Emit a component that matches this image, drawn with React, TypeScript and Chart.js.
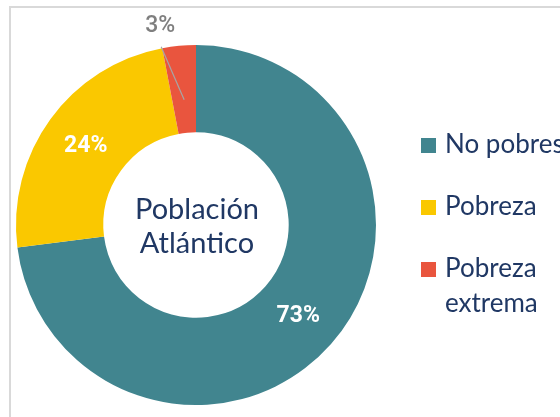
import React, { useEffect, useRef } from 'react';
import { Chart, registerables } from 'chart.js';

Chart.register(...registerables);

const categories = ['No pobres', 'Pobreza', 'Pobreza extrema'];
const legendLines = [['No pobres'], ['Pobreza'], ['Pobreza', 'extrema']];
const values = [73, 24, 3];
const colors = ['#41858F', '#FAC800', '#E9553E'];
const centerTitle = ['Población', 'Atlántico'];

const NAVY = '#203864';

const framePlugin = {
  id: 'frame',
  beforeDraw(chart: any) {
    const ctx = chart.ctx;
    ctx.save();
    ctx.strokeStyle = '#d9d9d9';
    ctx.lineWidth = 2;
    ctx.beginPath();
    ctx.moveTo(10, chart.height + 5);
    ctx.lineTo(10, 7);
    ctx.lineTo(chart.width + 5, 7);
    ctx.stroke();
    ctx.restore();
  },
};

const labelPlugin = {
  id: 'sliceLabels',
  afterDatasetsDraw(chart: any) {
    const ctx = chart.ctx;
    const meta = chart.getDatasetMeta(0);
    const data = chart.data.datasets[0].data as number[];
    ctx.save();
    meta.data.forEach((arc: any, i: number) => {
      const v = data[i];
      const pos = arc.tooltipPosition();
      const text = `${v}%`;
      if (v >= 10) {
        ctx.fillStyle = '#ffffff';
        ctx.font = 'bold 23px Roboto, "DejaVu Sans", sans-serif';
        ctx.textAlign = 'center';
        ctx.textBaseline = 'middle';
        ctx.fillText(text, pos.x, pos.y + 1);
      } else {
        const mid = (arc.startAngle + arc.endAngle) / 2;
        const r = arc.innerRadius + (arc.outerRadius - arc.innerRadius) * 0.38;
        const ax = arc.x + Math.cos(mid) * r;
        const ay = arc.y + Math.sin(mid) * r;
        const ex = ax - 23;
        const ey = ay - 53;
        ctx.strokeStyle = '#a6a6a6';
        ctx.lineWidth = 1.2;
        ctx.beginPath();
        ctx.moveTo(ax, ay);
        ctx.lineTo(ex, ey);
        ctx.stroke();
        ctx.fillStyle = '#7f7f7f';
        ctx.font = '500 23px Roboto, "DejaVu Sans", sans-serif';
        ctx.textAlign = 'center';
        ctx.textBaseline = 'middle';
        ctx.fillText(text, ex - 1, ey - 20);
      }
    });
    ctx.restore();
  },
};

const centerPlugin = {
  id: 'centerText',
  afterDatasetsDraw(chart: any) {
    const ctx = chart.ctx;
    const arc = chart.getDatasetMeta(0).data[0] as any;
    const cx = arc.x;
    const cy = arc.y;
    ctx.save();
    ctx.fillStyle = NAVY;
    ctx.font = '29px Lato, "Open Sans", sans-serif';
    ctx.textAlign = 'center';
    ctx.textBaseline = 'alphabetic';
    ctx.fillText(centerTitle[0], cx + 1, cy - 6);
    ctx.fillText(centerTitle[1], cx + 1, cy + 28);
    ctx.restore();
  },
};

const legendPlugin = {
  id: 'customLegend',
  afterDraw(chart: any) {
    const ctx = chart.ctx;
    const x0 = 421;
    let y = 138;
    ctx.save();
    ctx.font = '26px Lato, "Open Sans", sans-serif';
    ctx.textAlign = 'left';
    ctx.textBaseline = 'alphabetic';
    legendLines.forEach((lines, i) => {
      ctx.fillStyle = colors[i];
      ctx.fillRect(x0, y, 15, 15);
      ctx.fillStyle = NAVY;
      lines.forEach((ln, j) => {
        ctx.fillText(ln, x0 + 24, y + 15 + j * 35);
      });
      y += 62;
    });
    ctx.restore();
  },
};

export default function App() {
  const ref = useRef<HTMLCanvasElement | null>(null);

  useEffect(() => {
    if (!ref.current) return;
    const chart = new Chart(ref.current, {
      type: 'doughnut',
      data: {
        labels: categories,
        datasets: [
          {
            data: values,
            backgroundColor: colors,
            borderWidth: 0,
          },
        ],
      },
      options: {
        responsive: false,
        animation: false,
        devicePixelRatio: 1,
        cutout: '51.5%',
        layout: { padding: { left: 16, top: 45, right: 184, bottom: 12 } },
        plugins: {
          legend: { display: false },
          tooltip: { enabled: false },
        },
      },
      plugins: [framePlugin, labelPlugin, centerPlugin, legendPlugin],
    });
    return () => chart.destroy();
  }, []);

  return (
    <div style={{ position: 'fixed', left: 0, top: 0, width: 560, height: 417, background: '#ffffff', overflow: 'hidden' }}>
      <canvas ref={ref} width={560} height={417} style={{ display: 'block' }} />
    </div>
  );
}
